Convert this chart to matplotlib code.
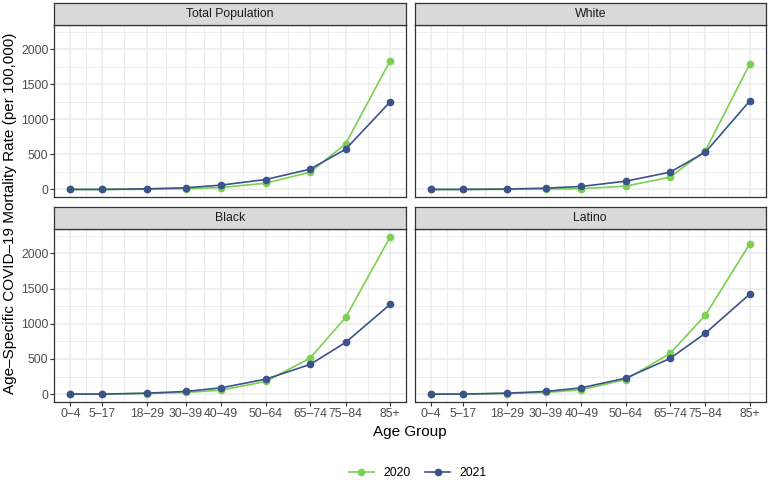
import matplotlib.pyplot as plt
from matplotlib.lines import Line2D

plt.rcParams['font.family'] = ['Liberation Sans', 'DejaVu Sans']

# age groups, placed at the middle of each age band
age_groups = ['0–4', '5–17', '18–29', '30–39', '40–49', '50–64', '65–74', '75–84', '85+']
age_mid = [2, 11, 23.5, 34.5, 44.5, 57, 69.5, 79.5, 92]

# age-specific mortality per 100,000
total_2020 = [0.5, 0.5, 3, 10, 28, 90, 246, 649, 1829]
total_2021 = [0.5, 0.5, 9, 24, 62, 142, 289, 573, 1246]
white_2020 = [0.5, 0.5, 2, 5, 12, 47, 175, 554, 1787]
white_2021 = [0.5, 0.5, 6, 19, 43, 118, 246, 531, 1261]
black_2020 = [1, 1, 9, 24, 57, 180, 512, 1090, 2232]
black_2021 = [1, 1, 14, 38, 90, 213, 422, 735, 1275]
latino_2020 = [1, 1, 9, 24, 62, 208, 578, 1123, 2137]
latino_2021 = [1, 1, 14, 38, 90, 227, 507, 867, 1422]

panel_names = ['Total Population', 'White', 'Black', 'Latino']
series_2020 = [total_2020, white_2020, black_2020, latino_2020]
series_2021 = [total_2021, white_2021, black_2021, latino_2021]

col_2020 = '#7AD151'
col_2021 = '#3B528B'

W, H = 768, 480
fig = plt.figure(figsize=(W / 100, H / 100), dpi=100)

# panel boxes in pixels: (left, top, right, bottom)
boxes = [(54.3, 25, 406, 197.3), (414.7, 25, 765.7, 197.3),
         (54.3, 229.3, 406, 402), (414.7, 229.3, 765.7, 402)]
strip_h = 22.5

ymax = max(max(s) for s in series_2020 + series_2021)
ylim = (-0.05 * ymax, ymax * 1.05)
xr = age_mid[-1] - age_mid[0]
xlim = (age_mid[0] - 0.05 * xr, age_mid[-1] + 0.05 * xr)

minor_x = [(a + b) / 2 for a, b in zip(age_mid[:-1], age_mid[1:])]
major_y = [0, 500, 1000, 1500, 2000]
minor_y = [250, 750, 1250, 1750, 2250]

for i, (l, t, r, b) in enumerate(boxes):
    ax = fig.add_axes([l / W, 1 - b / H, (r - l) / W, (b - t) / H])
    ax.set_xlim(xlim)
    ax.set_ylim(ylim)
    for x in minor_x:
        ax.axvline(x, color='#EBEBEB', lw=0.6, zorder=0)
    for y in minor_y:
        ax.axhline(y, color='#EBEBEB', lw=0.6, zorder=0)
    for x in age_mid:
        ax.axvline(x, color='#EBEBEB', lw=1.1, zorder=0)
    for y in major_y:
        ax.axhline(y, color='#EBEBEB', lw=1.1, zorder=0)

    ax.plot(age_mid, series_2020[i], color=col_2020, lw=1.2, marker='o', ms=4.5, zorder=3)
    ax.plot(age_mid, series_2021[i], color=col_2021, lw=1.2, marker='o', ms=4.5, zorder=3)

    for sp in ax.spines.values():
        sp.set_color('#333333')
        sp.set_linewidth(0.9)

    ax.set_xticks(age_mid)
    ax.set_yticks(major_y)
    ax.tick_params(length=2.8, width=0.8, color='#333333', labelsize=8.8,
                   labelcolor='#4D4D4D', pad=1.5)
    if i >= 2:
        ax.set_xticklabels(age_groups)
    else:
        ax.set_xticklabels([])
        ax.tick_params(axis='x', length=0)
    if i % 2 == 1:
        ax.set_yticklabels([])
        ax.tick_params(axis='y', length=0)

    # facet strip
    sax = fig.add_axes([l / W, 1 - t / H, (r - l) / W, strip_h / H])
    sax.set_facecolor('#D9D9D9')
    sax.set_xticks([])
    sax.set_yticks([])
    for sp in sax.spines.values():
        sp.set_color('#333333')
        sp.set_linewidth(0.9)
    sax.text(0.5, 0.5, panel_names[i], ha='center', va='center', fontsize=8.8,
             color='#1A1A1A', transform=sax.transAxes)

fig.text(10 / W, 1 - 213 / H, 'Age–Specific COVID–19 Mortality Rate (per 100,000)',
         rotation=90, ha='center', va='center', fontsize=11)
fig.text(410 / W, 1 - 432 / H, 'Age Group', ha='center', va='center', fontsize=11)

handles = [Line2D([], [], color=col_2020, lw=1.2, marker='o', ms=4.5),
           Line2D([], [], color=col_2021, lw=1.2, marker='o', ms=4.5)]
fig.legend(handles, ['2020', '2021'], loc='center', ncol=2, frameon=False,
           bbox_to_anchor=(418 / W, 1 - 473 / H), fontsize=8.8,
           handlelength=2.0, columnspacing=1.2, handletextpad=0.8)

fig.savefig('out.png', dpi=100, facecolor='white')
